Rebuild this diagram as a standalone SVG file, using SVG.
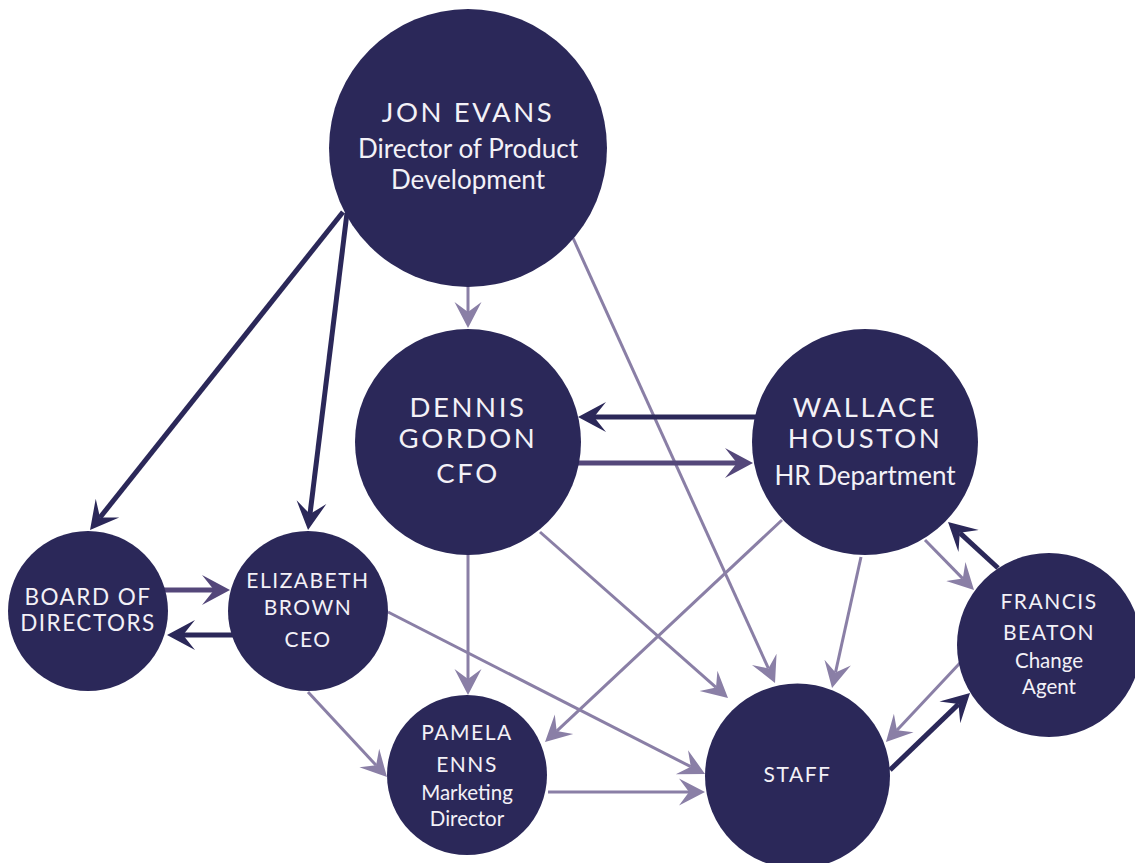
<svg xmlns="http://www.w3.org/2000/svg" width="1135" height="863" viewBox="0 0 1135 863">
  <style>
    .node { fill: #2b2859; }
    .lbl { fill: #f3f1f7; font-family: Lato, "Open Sans", "Liberation Sans", sans-serif; text-anchor: middle; }
    .cap { letter-spacing: 2.6px; }
    .cap-s { letter-spacing: 1.5px; }
    .light { stroke: #8a7fa6; stroke-width: 3; fill: none; marker-end: url(#headLight); }
    .mid { stroke: #54477a; stroke-width: 5; fill: none; marker-end: url(#headMid); }
    .dark { stroke: #2b2859; stroke-width: 5; fill: none; marker-end: url(#headDark); }
  </style>
  <defs>
    <marker id="headLight" markerUnits="userSpaceOnUse" viewBox="0 -16 30 32" markerWidth="30" markerHeight="32" refX="10" refY="0" orient="auto">
      <path d="M26,0 L0,-13.5 L10,0 L0,13.5 Z" fill="#8a7fa6"/>
    </marker>
    <marker id="headMid" markerUnits="userSpaceOnUse" viewBox="0 -16 30 32" markerWidth="30" markerHeight="32" refX="12" refY="0" orient="auto">
      <path d="M28,0 L0,-15 L12,0 L0,15 Z" fill="#54477a"/>
    </marker>
    <marker id="headDark" markerUnits="userSpaceOnUse" viewBox="0 -16 30 32" markerWidth="30" markerHeight="32" refX="12" refY="0" orient="auto">
      <path d="M28,0 L0,-15 L12,0 L0,15 Z" fill="#2b2859"/>
    </marker>
  </defs>

  <rect width="1135" height="863" fill="#ffffff"/>

  <!-- connectors: drawn first so the circles sit on top of their ends -->
  <g id="connectors">
    <path class="dark" d="M343,212 L100,517.5"/>
    <path class="dark" d="M347,213 L310,514.1"/>
    <path class="light" d="M468,280 L468,312"/>
    <path class="light" d="M573,238 L768.4,668.4"/>
    <path class="dark" d="M760,417 L594,417"/>
    <path class="mid" d="M575,463 L737,463"/>
    <path class="mid" d="M160,590 L214,590"/>
    <path class="dark" d="M235,635 L183,635"/>
    <path class="light" d="M468,550 L468,679"/>
    <path class="light" d="M540,532 L716,687.4"/>
    <path class="light" d="M782,520 L556.7,731.1"/>
    <path class="light" d="M861,557 L835.5,672.4"/>
    <path class="light" d="M925,540 L962.8,578.6"/>
    <path class="dark" d="M998,568 L959.8,532.8"/>
    <path class="light" d="M960,663 L896.9,730.3"/>
    <path class="dark" d="M890,770 L958.5,704.1"/>
    <path class="light" d="M308,692 L376.1,765.3"/>
    <path class="light" d="M388,612 L690.8,766.7"/>
    <path class="light" d="M548,792 L689,792"/>
  </g>

  <g id="jon-evans">
    <circle class="node" cx="468" cy="148" r="139"/>
    <text class="lbl cap" x="468" y="122" font-size="27.5">JON EVANS</text>
    <text class="lbl" x="468" y="158" font-size="26">Director of Product</text>
    <text class="lbl" x="468" y="189" font-size="26">Development</text>
  </g>

  <g id="dennis-gordon">
    <circle class="node" cx="468" cy="442" r="113"/>
    <text class="lbl cap" x="468" y="417" font-size="27.5">DENNIS</text>
    <text class="lbl cap" x="468" y="448" font-size="27.5">GORDON</text>
    <text class="lbl cap" x="468" y="483" font-size="27.5">CFO</text>
  </g>

  <g id="wallace-houston">
    <circle class="node" cx="865" cy="442" r="113"/>
    <text class="lbl cap" x="865" y="417" font-size="27.5">WALLACE</text>
    <text class="lbl cap" x="865" y="448" font-size="27.5">HOUSTON</text>
    <text class="lbl" x="865" y="485" font-size="26">HR Department</text>
  </g>

  <g id="board-of-directors">
    <circle class="node" cx="88" cy="611" r="80"/>
    <text class="lbl cap-s" x="88" y="605" font-size="22.5">BOARD OF</text>
    <text class="lbl cap-s" x="88" y="631" font-size="22.5">DIRECTORS</text>
  </g>

  <g id="elizabeth-brown">
    <circle class="node" cx="308" cy="611" r="80"/>
    <text class="lbl cap-s" x="308" y="588" font-size="21">ELIZABETH</text>
    <text class="lbl cap-s" x="308" y="615" font-size="21">BROWN</text>
    <text class="lbl cap-s" x="308" y="647" font-size="21">CEO</text>
  </g>

  <g id="pamela-enns">
    <circle class="node" cx="467" cy="775" r="80"/>
    <text class="lbl cap-s" x="467" y="740" font-size="21">PAMELA</text>
    <text class="lbl cap-s" x="467" y="772" font-size="21">ENNS</text>
    <text class="lbl" x="467" y="800" font-size="20.5">Marketing</text>
    <text class="lbl" x="467" y="826" font-size="20.5">Director</text>
  </g>

  <g id="staff">
    <circle class="node" cx="797.5" cy="776" r="92.5"/>
    <text class="lbl cap-s" x="797.5" y="782" font-size="21">STAFF</text>
  </g>

  <g id="francis-beaton">
    <circle class="node" cx="1049" cy="645" r="92"/>
    <text class="lbl cap-s" x="1049" y="609" font-size="21">FRANCIS</text>
    <text class="lbl cap-s" x="1049" y="640" font-size="21">BEATON</text>
    <text class="lbl" x="1049" y="668" font-size="20.5">Change</text>
    <text class="lbl" x="1049" y="694" font-size="20.5">Agent</text>
  </g>
</svg>
